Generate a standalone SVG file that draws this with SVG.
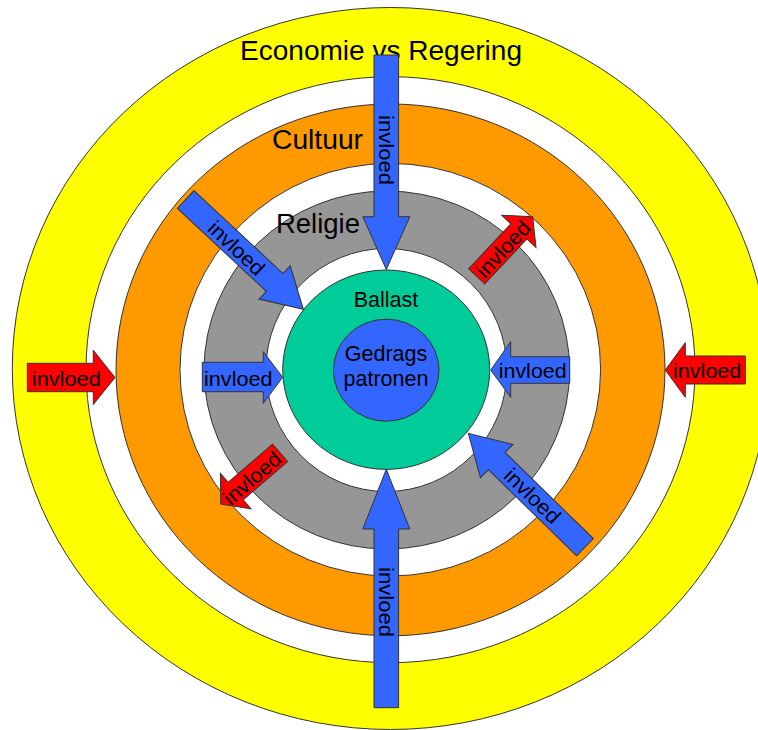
<svg xmlns="http://www.w3.org/2000/svg" width="758" height="730" viewBox="0 0 758 730">
<style>
  .ring { stroke: #333333; stroke-width: 1; }
  .gap { fill: #FFFFFF; }
  .lbl { font-family: "Liberation Sans", Arial, sans-serif; fill: #000000; }
  .arr { stroke: #333333; stroke-width: 1; stroke-linejoin: miter; }
  .blue { fill: #3366FF; }
  .red { fill: #FF0000; }
  .al { font-family: "Liberation Sans", Arial, sans-serif; font-size: 21px; fill: #000000; text-anchor: middle; }
</style>
<rect x="0" y="0" width="758" height="730" fill="#FFFFFF"/>

<g id="economie-vs-regering">
  <ellipse class="ring" cx="390.5" cy="368.5" rx="378.2" ry="361" fill="#FFFF00"/>
  <ellipse class="ring gap" cx="390.5" cy="369.7" rx="304.5" ry="293"/>
  <text class="lbl" x="240" y="60" font-size="28" textLength="282" lengthAdjust="spacingAndGlyphs">Economie vs Regering</text>
</g>

<g id="cultuur">
  <ellipse class="ring" cx="390.5" cy="369.9" rx="274.5" ry="265.9" fill="#FF9900"/>
  <ellipse class="ring gap" cx="390.3" cy="369.7" rx="210.3" ry="206.3"/>
  <text class="lbl" x="272" y="149.3" font-size="27" textLength="91" lengthAdjust="spacingAndGlyphs">Cultuur</text>
</g>

<g id="religie">
  <ellipse class="ring" cx="386.8" cy="370" rx="182.8" ry="179" fill="#969696"/>
  <ellipse class="ring gap" cx="386.4" cy="370" rx="120.5" ry="121.5"/>
  <text class="lbl" x="276" y="233.3" font-size="27" textLength="84" lengthAdjust="spacingAndGlyphs">Religie</text>
</g>

<g id="ballast">
  <ellipse class="ring" cx="386.2" cy="369.7" rx="103.5" ry="99.7" fill="#00CC99"/>
  <text class="lbl" x="386" y="306.7" font-size="21.5" text-anchor="middle">Ballast</text>
</g>

<g id="gedragspatronen">
  <ellipse class="ring" cx="386.2" cy="370.2" rx="52.8" ry="51" fill="#3366FF"/>
  <text class="lbl" x="386" y="361" font-size="21.5" text-anchor="middle">Gedrags</text>
  <text class="lbl" x="386" y="386" font-size="21.5" text-anchor="middle">patronen</text>
</g>

<g id="connectors">
  <!-- top vertical -->
  <polygon class="arr blue" points="374,55 398.6,55 398.6,216.7 409.8,216.7 386.3,269.5 362.8,216.7 374,216.7"/>
  <text class="al" transform="translate(386.3,150) rotate(90)" x="0" y="7.5" textLength="70" lengthAdjust="spacingAndGlyphs">invloed</text>
  <!-- bottom vertical -->
  <polygon class="arr blue" points="374,707.7 398.6,707.7 398.6,529 409.8,529 386.3,469.3 362.8,529 374,529"/>
  <text class="al" transform="translate(386.3,602) rotate(90)" x="0" y="7.5" textLength="70" lengthAdjust="spacingAndGlyphs">invloed</text>
  <!-- left red -->
  <polygon class="arr red" points="27.3,363.3 93.3,363.3 93.3,350.3 115,377.5 93.3,404.5 93.3,391.7 27.3,391.7"/>
  <text class="al" x="66.3" y="385.7" textLength="69" lengthAdjust="spacingAndGlyphs">invloed</text>
  <!-- left blue -->
  <polygon class="arr blue" points="202.3,362.3 263.3,362.3 263.3,351.7 282.7,377.3 263.3,403.3 263.3,391.7 202.3,391.7"/>
  <text class="al" x="238.3" y="386" textLength="68.5" lengthAdjust="spacingAndGlyphs">invloed</text>
  <!-- right blue -->
  <polygon class="arr blue" points="569.7,356.7 510.7,356.7 510.7,341.7 490.7,370 510.7,397.3 510.7,383.3 569.7,383.3"/>
  <text class="al" x="532.7" y="378" textLength="68" lengthAdjust="spacingAndGlyphs">invloed</text>
  <!-- right red -->
  <polygon class="arr red" points="745.3,356 685.3,356 685.3,342.7 665.3,370 685.3,397.3 685.3,384 745.3,384"/>
  <text class="al" x="707.2" y="378" textLength="68.3" lengthAdjust="spacingAndGlyphs">invloed</text>
  <!-- upper-left blue diagonal -->
  <polygon class="arr blue" transform="translate(185.7,199.5) rotate(43)" points="0,-12.2 121.6,-12.2 121.6,-22.8 160.9,0 121.6,22.8 121.6,12.2 0,12.2"/>
  <text class="al" transform="translate(236.5,248) rotate(43)" x="0" y="7.5" textLength="69" lengthAdjust="spacingAndGlyphs">invloed</text>
  <!-- lower-right blue diagonal -->
  <polygon class="arr blue" transform="translate(585,547.2) rotate(224.3)" points="0,-12 123.3,-12 123.3,-23.3 163,0 123.3,23.3 123.3,12 0,12"/>
  <text class="al" transform="translate(532.5,495.8) rotate(44)" x="0" y="7.5" textLength="69" lengthAdjust="spacingAndGlyphs">invloed</text>
  <!-- upper-right red diagonal -->
  <polygon class="arr red" transform="translate(476.7,276.3) rotate(-46.8)" points="0,-11 61.6,-11 61.6,-23.5 81.8,0 61.6,23.5 61.6,11 0,11"/>
  <text class="al" transform="translate(503,249) rotate(-46.8)" x="0" y="7.5" textLength="69" lengthAdjust="spacingAndGlyphs">invloed</text>
  <!-- lower-left red diagonal -->
  <polygon class="arr red" transform="translate(280,452.8) rotate(139.2)" points="0,-11.5 58.6,-11.5 58.6,-23.3 78.3,0 58.6,23.3 58.6,11.5 0,11.5"/>
  <text class="al" transform="translate(252,478) rotate(-40.8)" x="0" y="7.5" textLength="69" lengthAdjust="spacingAndGlyphs">invloed</text>
</g>
</svg>
